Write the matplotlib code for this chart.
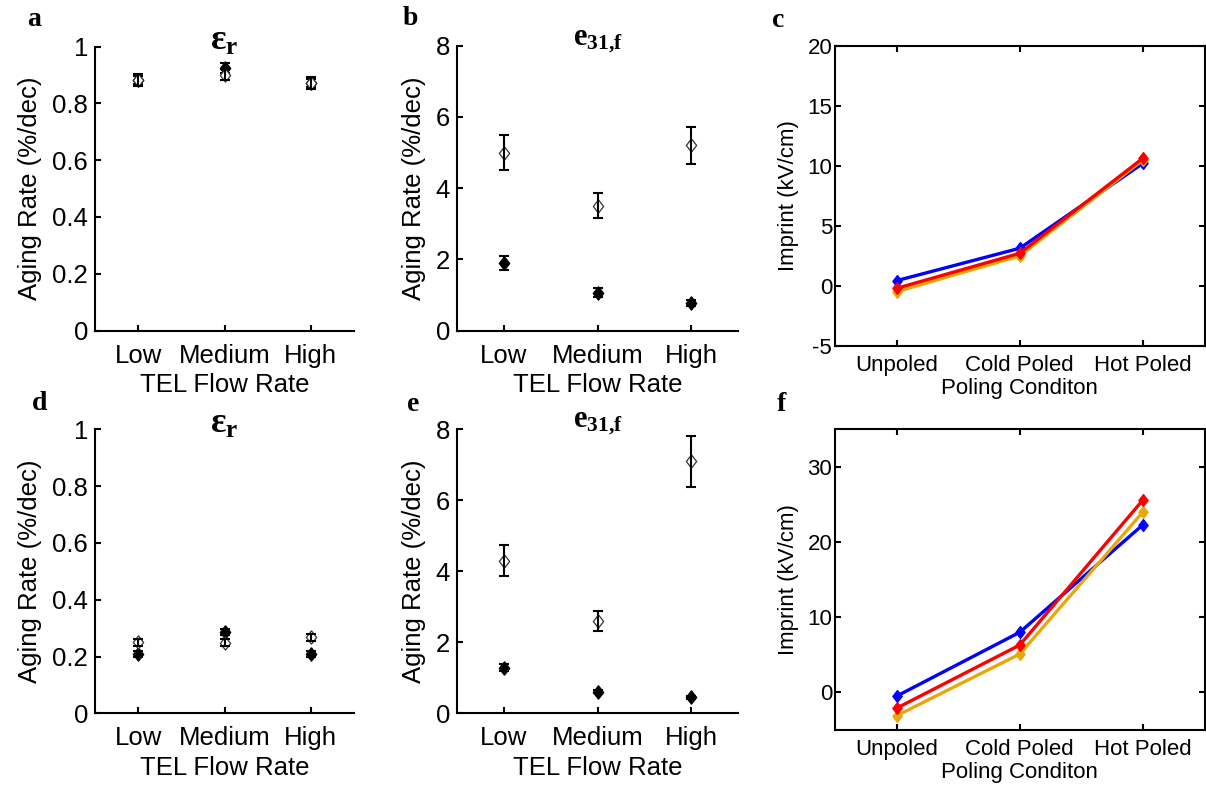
import matplotlib
matplotlib.use("Agg")
import matplotlib.pyplot as plt
from matplotlib.path import Path

# ---------------------------------------------------------------- data
flow_levels = ["Low", "Medium", "High"]
poling_states = ["Unpoled", "Cold Poled", "Hot Poled"]

# (a) permittivity aging rate, first film set
a_open = [0.883, 0.901, 0.872]
a_open_err = [0.02, 0.02, 0.02]
a_filled = [0.883, 0.925, 0.872]
a_filled_err = [0.015, 0.017, 0.015]

# (b) e31,f aging rate, first film set
b_open = [5.0, 3.5, 5.2]
b_open_err = [0.5, 0.35, 0.52]
b_filled = [1.89, 1.06, 0.78]
b_filled_err = [0.19, 0.12, 0.08]

# (c) imprint, first film set
c_blue = [0.42, 3.12, 10.2]
c_red = [-0.22, 2.7, 10.62]
c_orange = [-0.5, 2.48, 10.48]

# (d) permittivity aging rate, second film set
d_open = [0.25, 0.249, 0.268]
d_open_err = [0.012, 0.012, 0.012]
d_filled = [0.208, 0.287, 0.208]
d_filled_err = [0.01, 0.01, 0.01]

# (e) e31,f aging rate, second film set
e_open = [4.3, 2.6, 7.1]
e_open_err = [0.43, 0.27, 0.72]
e_filled = [1.29, 0.61, 0.45]
e_filled_err = [0.1, 0.05, 0.04]

# (f) imprint, second film set
f_blue = [-0.5, 8.0, 22.3]
f_red = [-2.1, 6.3, 25.6]
f_orange = [-3.1, 5.1, 24.0]

# ---------------------------------------------------------------- style
W, H = 1206, 786
plt.rcParams.update({
    "font.family": ["Liberation Sans", "DejaVu Sans"],
    "axes.unicode_minus": False,
    "mathtext.fontset": "custom",
    "mathtext.rm": "Liberation Serif:bold",
    "mathtext.it": "Liberation Serif:bold",
    "mathtext.bf": "Liberation Serif:bold",
    "axes.linewidth": 1.5,
    "xtick.direction": "in",
    "ytick.direction": "in",
    "xtick.major.size": 4,
    "ytick.major.size": 4,
    "xtick.major.width": 1.5,
    "ytick.major.width": 1.5,
})

DIAMOND = Path([(0, 1), (0.78, 0), (0, -1), (-0.78, 0), (0, 1)],
               [Path.MOVETO, Path.LINETO, Path.LINETO, Path.LINETO, Path.CLOSEPOLY])

LINE_COLORS = {"blue": "#0000FF", "red": "#FF0000", "orange": "#E8A80C"}

fig = plt.figure(figsize=(W / 100, H / 100), dpi=100)


def px_axes(left, top, right, bottom):
    return fig.add_axes([left / W, 1 - bottom / H, (right - left) / W, (bottom - top) / H])


def aging_panel(box, ymax, yticks, ylabels, open_v, open_e, fill_v, fill_e,
                title, title_size, title_dy):
    ax = px_axes(*box)
    x = [1, 2, 3]
    # filled series underneath
    ax.errorbar(x, fill_v, yerr=fill_e, fmt="none", ecolor="black",
                elinewidth=1.5, capsize=3.5, capthick=1.5, zorder=2)
    ax.plot(x, fill_v, linestyle="none", marker=DIAMOND, markersize=9.5,
            markerfacecolor="black", markeredgecolor="black", markeredgewidth=1.0, zorder=3)
    # open series on top
    ax.plot(x, open_v, linestyle="none", marker=DIAMOND, markersize=9.5,
            markerfacecolor="white", markeredgecolor="#333333", markeredgewidth=0.9, zorder=4)
    ax.errorbar(x, open_v, yerr=open_e, fmt="none", ecolor="black",
                elinewidth=1.5, capsize=3.5, capthick=1.5, zorder=5)
    ax.set_xlim(0.5, 3.5)
    ax.set_ylim(0, ymax)
    ax.set_xticks(x)
    ax.set_xticklabels(flow_levels, fontsize=18.5)
    ax.set_yticks(yticks)
    ax.set_yticklabels(ylabels, fontsize=18.5)
    ax.tick_params(axis="x", pad=9.5)
    ax.tick_params(axis="y", pad=5)
    ax.spines["top"].set_visible(False)
    ax.spines["right"].set_visible(False)
    ax.set_ylabel("Aging Rate (%/dec)", fontsize=18.5, labelpad=7)
    ax.set_xlabel("TEL Flow Rate", fontsize=18.5, labelpad=4)
    ax.text(0.5, 1.0 + title_dy / (box[3] - box[1]), title, transform=ax.transAxes,
            ha="center", va="baseline", fontsize=title_size)
    return ax


def imprint_panel(box, ylim, yticks, blue, red, orange):
    ax = px_axes(*box)
    x = [1, 2, 3]
    for vals, key in ((blue, "blue"), (orange, "orange"), (red, "red")):
        ax.plot(x, vals, color=LINE_COLORS[key], linewidth=2.4, marker=DIAMOND,
                markersize=8.5, markerfacecolor=LINE_COLORS[key],
                markeredgecolor=LINE_COLORS[key])
    ax.set_xlim(0.5, 3.5)
    ax.set_ylim(*ylim)
    ax.set_xticks(x)
    ax.set_xticklabels(poling_states, fontsize=16)
    ax.set_yticks(yticks)
    ax.set_yticklabels([str(t) for t in yticks], fontsize=16)
    ax.tick_params(top=True, right=True)
    ax.tick_params(axis="x", pad=6.5)
    ax.tick_params(axis="y", pad=2)
    ax.set_ylabel("Imprint (kV/cm)", fontsize=16, labelpad=6)
    ax.set_xlabel("Poling Conditon", fontsize=16, labelpad=1.5)
    return ax


eps_title = r"$\mathrm{ε}_{\mathrm{r}}$"
e31_title = r"$\mathrm{e}_{\mathrm{31{,}f}}$"
rate_ticks_1 = [0, 0.2, 0.4, 0.6, 0.8, 1]
rate_labels_1 = ["0", "0.2", "0.4", "0.6", "0.8", "1"]
rate_ticks_8 = [0, 2, 4, 6, 8]
rate_labels_8 = ["0", "2", "4", "6", "8"]

aging_panel((95, 46.7, 354, 330.5), 1, rate_ticks_1, rate_labels_1,
            a_open, a_open_err, a_filled, a_filled_err, eps_title, 26, -3)
aging_panel((457, 45.7, 738, 330.5), 8, rate_ticks_8, rate_labels_8,
            b_open, b_open_err, b_filled, b_filled_err, e31_title, 22, 1)
imprint_panel((835, 45.7, 1204.5, 345.7), (-5, 20), [-5, 0, 5, 10, 15, 20],
              c_blue, c_red, c_orange)
aging_panel((95, 429.3, 354, 713.3), 1, rate_ticks_1, rate_labels_1,
            d_open, d_open_err, d_filled, d_filled_err, eps_title, 26, -4)
aging_panel((457, 429.3, 738, 713.3), 8, rate_ticks_8, rate_labels_8,
            e_open, e_open_err, e_filled, e_filled_err, e31_title, 22, 2)
imprint_panel((835, 429.3, 1204.5, 730), (-5, 35), [0, 10, 20, 30],
              f_blue, f_red, f_orange)

# panel letters
for letter, x, y in (("a", 27, 26), ("b", 403, 25), ("c", 772, 27),
                     ("d", 32, 410), ("e", 407, 411), ("f", 777, 411)):
    fig.text(x / W, 1 - y / H, letter, fontsize=20, fontweight="bold",
             family="Liberation Serif", ha="left", va="baseline")

fig.savefig("out.png", dpi=100)
